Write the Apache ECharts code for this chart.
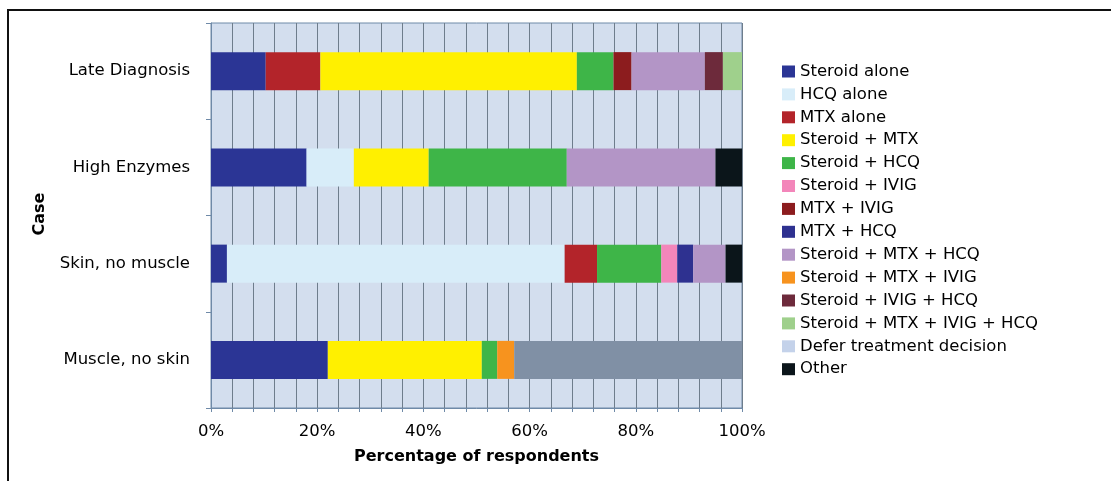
<!DOCTYPE html>
<html>
<head>
<meta charset="utf-8">
<script src="https://cdn.jsdelivr.net/npm/echarts@6/dist/echarts.min.js"></script>
<style>
  html, body { margin: 0; padding: 0; background: #fff; }
  #chart { width: 1111px; height: 481px; }
</style>
</head>
<body>
<div id="chart"></div>
<script>
// Clinical cases (top to bottom)
const categories = ['Late Diagnosis', 'High Enzymes', 'Skin, no muscle', 'Muscle, no skin'];

// Percentage of respondents per treatment choice, in category order
const steroidAlone      = [10.3, 18.0, 3.0, 22.0];
const hcqAlone          = [0, 8.9, 63.6, 0];
const mtxAlone          = [10.3, 0, 6.1, 0];
const steroidMtx        = [48.3, 14.1, 0, 29.0];
const steroidHcq        = [6.9, 26.0, 12.1, 2.9];
const steroidIvig       = [0, 0, 3.0, 0];
const mtxIvig           = [3.4, 0, 0, 0];
const mtxHcq            = [0, 0, 3.0, 0];
const steroidMtxHcq     = [13.8, 28.0, 6.1, 0];
const steroidMtxIvig    = [0, 0, 0, 3.2];
const steroidIvigHcq    = [3.4, 0, 0, 0];
const steroidMtxIvigHcq = [3.6, 0, 0, 0];
const deferDecision     = [0, 0, 0, 42.9];
const other             = [0, 5.0, 3.1, 0];

const xTicks = [0, 20, 40, 60, 80, 100];

const seriesDefs = [
  ['Steroid alone', steroidAlone, '#2b3595'],
  ['HCQ alone', hcqAlone, '#d8edf9'],
  ['MTX alone', mtxAlone, '#b3242a'],
  ['Steroid + MTX', steroidMtx, '#fff000'],
  ['Steroid + HCQ', steroidHcq, '#3eb548'],
  ['Steroid + IVIG', steroidIvig, '#f386ba'],
  ['MTX + IVIG', mtxIvig, '#8c1c1e'],
  ['MTX + HCQ', mtxHcq, '#2e3190'],
  ['Steroid + MTX + HCQ', steroidMtxHcq, '#b395c6'],
  ['Steroid + MTX + IVIG', steroidMtxIvig, '#f7931e'],
  ['Steroid + IVIG + HCQ', steroidIvigHcq, '#6d2a3b'],
  ['Steroid + MTX + IVIG + HCQ', steroidMtxIvigHcq, '#9fd08c'],
  ['Defer treatment decision', deferDecision, '#c4d2ea'],
  ['Other', other, '#0b151a']
];

// The deferred segment is drawn in a darker slate than its legend swatch
const deferBarColor = '#8090a5';

const series = seriesDefs.map(([name, vals, color]) => ({
  name: name,
  type: 'bar',
  stack: 'total',
  barWidth: 38,
  itemStyle: { color: color },
  data: vals.map(v => name === 'Defer treatment decision'
    ? { value: v, itemStyle: { color: deferBarColor } }
    : v)
}));

const font = '"DejaVu Sans"';
const axisColor = '#6f8aa8';
const labelSize = 16.5;

const chart = echarts.init(document.getElementById('chart'), null, { renderer: 'canvas' });
chart.setOption({
  animation: false,
  textStyle: { fontFamily: font },
  graphic: [{
    type: 'rect',
    shape: { x: 8, y: 10, width: 1200, height: 600 },
    style: { fill: 'none', stroke: '#111', lineWidth: 2 },
    silent: true
  }, {
    type: 'text',
    x: 40, y: 214,
    rotation: Math.PI / 2,
    style: {
      text: 'Case', font: 'bold 16px ' + font, fill: '#000',
      align: 'center', verticalAlign: 'middle'
    }
  }],
  legend: {
    orient: 'vertical',
    left: 777,
    top: 58,
    itemWidth: 13,
    itemHeight: 12,
    itemGap: 5.9,
    icon: 'rect',
    textStyle: { fontFamily: font, fontSize: labelSize, color: '#000', lineHeight: 16 },
    data: seriesDefs.map(d => d[0])
  },
  grid: {
    left: 211, right: 369, top: 23, bottom: 73,
    show: true,
    backgroundColor: '#d3deee',
    borderColor: axisColor,
    borderWidth: 1,
    containLabel: false
  },
  xAxis: {
    type: 'value',
    min: 0, max: 100, interval: 4,
    name: 'Percentage of respondents',
    nameLocation: 'middle',
    nameGap: 41,
    nameTextStyle: { fontFamily: font, fontSize: 16, fontWeight: 'bold', color: '#000' },
    axisLine: { show: true, lineStyle: { color: axisColor } },
    axisTick: { show: true, length: 4, lineStyle: { color: axisColor } },
    axisLabel: {
      fontFamily: font, fontSize: labelSize, color: '#000', margin: 15,
      formatter: v => xTicks.includes(v) ? v + '%' : ''
    },
    splitLine: { show: true, lineStyle: { color: '#6e7d8c', width: 1 } }
  },
  yAxis: {
    type: 'category',
    inverse: true,
    data: categories,
    axisLine: { show: true, lineStyle: { color: axisColor } },
    axisTick: { show: true, length: 5, lineStyle: { color: axisColor } },
    axisLabel: { fontFamily: font, fontSize: labelSize, color: '#000', margin: 21 },
    splitLine: { show: false }
  },
  series: series
});
</script>
</body>
</html>
